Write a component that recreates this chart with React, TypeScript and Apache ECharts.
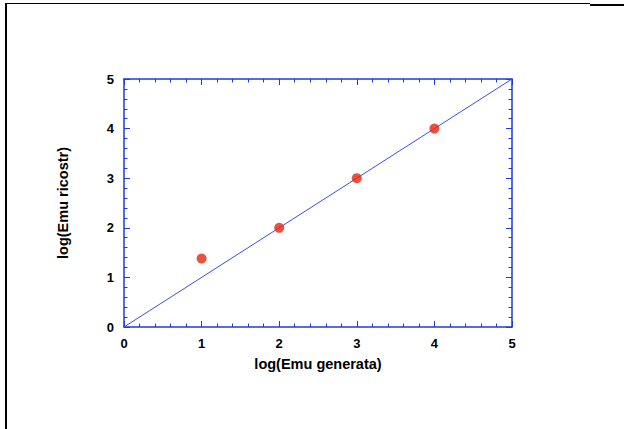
import React, { useEffect, useRef } from "react";
import * as echarts from "echarts";

const xName = "log(Emu generata)";
const yName = "log(Emu ricostr)";
const pointsX = [1, 2, 3, 4];
const pointsY = [1.38, 2, 3, 4];
const fitX = [0, 5];
const fitY = [0, 5];

export default function App() {
  const ref = useRef<HTMLDivElement>(null);
  useEffect(() => {
    document.body.style.margin = "0";
    const chart = echarts.init(ref.current!, null, { renderer: "svg" });
    const axisColor = "#1f3ae0";
    const labelStyle = { color: "#000", fontFamily: "Liberation Sans, Arial", fontWeight: "bold" as const, fontSize: 13 };
    const common = {
      type: "value" as const,
      min: 0,
      max: 5,
      interval: 1,
      axisLine: { show: true, onZero: false, lineStyle: { color: axisColor, width: 1.5 } },
      axisTick: { show: true, inside: true, length: 6, lineStyle: { color: axisColor, width: 1 } },
      minorTick: { show: true, splitNumber: 5, length: 3.5, lineStyle: { color: axisColor, width: 1 } },
      splitLine: { show: false },
    };
    chart.setOption({
      animation: false,
      backgroundColor: "#fff",
      grid: { left: 124, right: 112, top: 79, bottom: 102 },
      xAxis: [
        {
          ...common,
          position: "bottom",
          name: xName,
          nameLocation: "middle",
          nameGap: 29,
          nameTextStyle: { ...labelStyle, fontSize: 14.5 },
          axisLabel: { ...labelStyle, margin: 10 },
        },
        { ...common, position: "top", axisLabel: { show: false } },
      ],
      yAxis: [
        {
          ...common,
          position: "left",
          name: yName,
          nameLocation: "middle",
          nameGap: 54,
          nameTextStyle: { ...labelStyle, fontSize: 14.5 },
          axisLabel: { ...labelStyle, margin: 10 },
        },
        { ...common, position: "right", axisLabel: { show: false } },
      ],
      series: [
        {
          type: "line",
          data: fitX.map((x, i) => [x, fitY[i]]),
          symbol: "none",
          lineStyle: { color: "#3a4fe8", width: 1 },
          z: 2,
        },
        {
          type: "scatter",
          data: pointsX.map((x, i) => [x, pointsY[i]]),
          symbolSize: 10,
          itemStyle: { color: "#e6260a" },
          z: 3,
        },
      ],
      graphic: [
        { type: "line", shape: { x1: 6, y1: 3.5, x2: 590, y2: 3.5 }, style: { stroke: "#000", lineWidth: 1 } },
        { type: "line", shape: { x1: 590, y1: 5, x2: 624, y2: 5 }, style: { stroke: "#000", lineWidth: 2 } },
        { type: "line", shape: { x1: 6, y1: 3, x2: 6, y2: 429 }, style: { stroke: "#000", lineWidth: 2 } },
      ],
    });
    return () => chart.dispose();
  }, []);
  return <div ref={ref} style={{ position: "fixed", left: 0, top: 0, width: 624, height: 429 }} />;
}
